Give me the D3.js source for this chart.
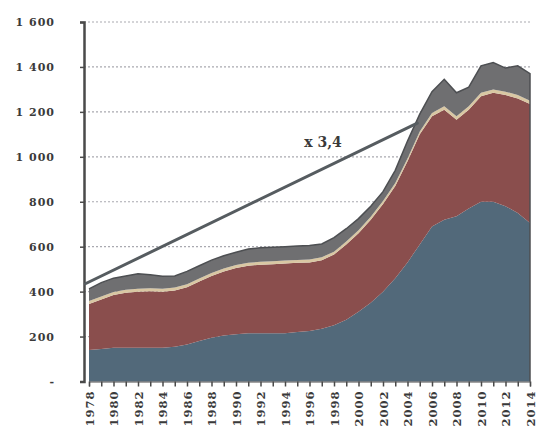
<!DOCTYPE html>
<html>
<head>
<meta charset="utf-8">
<script src="https://cdn.jsdelivr.net/npm/d3@7/dist/d3.min.js"></script>
<style>
  html, body { margin: 0; padding: 0; background: #ffffff; }
  svg { display: block; }
  text { font-family: "DejaVu Serif", "Liberation Serif", serif; font-weight: bold; fill: #3a3a3a; }
</style>
</head>
<body>
<svg id="chart" width="543" height="428"></svg>
<script>
// Annual series, stacked from the bottom up
const years = d3.range(1978, 2015);
const blueLayer = [140,145,150,150,150,150,150,155,165,180,195,205,210,215,215,215,215,220,225,235,250,275,310,350,400,460,530,610,690,720,735,770,800,800,780,750,705];
const redLayer  = [205,220,235,245,250,252,250,250,255,265,275,285,295,300,305,307,310,308,305,305,315,335,350,370,390,410,450,490,490,490,430,440,470,485,495,510,530];
const beigeLayer = [13,13,13,13,13,13,13,13,13,13,13,13,13,13,13,13,13,13,13,13,13,13,13,13,13,13,13,13,15,15,15,15,15,15,15,15,15];
const grayLayer = [54,62,62,62,67,60,55,52,57,57,57,57,57,62,62,63,62,62,62,59,62,57,52,47,42,57,77,77,95,120,105,85,120,120,105,130,120];

const yTicks = [0, 200, 400, 600, 800, 1000, 1200, 1400, 1600];
const yTickLabels = ["-", "200", "400", "600", "800", "1 000", "1 200", "1 400", "1 600"];
const xTickYears = d3.range(1978, 2015, 2);

// Trend line and its annotation
const trendYears = [1977.7, 2004.8];
const trendValues = [435, 1150];
const trendLabel = "x 3,4";

const layerKeys = ["blue", "red", "beige", "gray"];
const layerColors = { blue: "#52697a", red: "#8a4e4d", beige: "#d9c7a3", gray: "#6f6f71" };

const rows = years.map((y, i) => ({
  year: y, blue: blueLayer[i], red: redLayer[i], beige: beigeLayer[i], gray: grayLayer[i]
}));

const svg = d3.select("#chart");
const x = d3.scaleLinear().domain([1978, 2014]).range([89, 530]);
const y = d3.scaleLinear().domain([0, 1600]).range([381.5, 22]);

// Dotted horizontal gridlines
svg.append("g")
  .selectAll("line")
  .data(yTicks.filter(v => v > 0))
  .join("line")
  .attr("x1", 84).attr("x2", 530)
  .attr("y1", d => y(d)).attr("y2", d => y(d))
  .attr("stroke", "#a9a9b0")
  .attr("stroke-width", 1.2)
  .attr("stroke-dasharray", "2,2");

// Stacked areas
const stack = d3.stack().keys(layerKeys);
const series = stack(rows);
const area = d3.area()
  .x(d => x(d.data.year))
  .y0(d => y(d[0]))
  .y1(d => y(d[1]));

svg.append("g")
  .selectAll("path")
  .data(series)
  .join("path")
  .attr("d", area)
  .attr("fill", d => layerColors[d.key]);

// Outline along the top of the stack and its right edge
const topSeries = series[series.length - 1];
const outline = d3.line().x(d => x(d[0])).y(d => y(d[1]));
const lastYear = years[years.length - 1];
const outlinePts = topSeries.map(d => [d.data.year, d[1]]).concat([[lastYear, 0]]);
svg.append("path")
  .attr("d", outline(outlinePts))
  .attr("fill", "none")
  .attr("stroke", "#4d4f52")
  .attr("stroke-width", 1.5);

// Y axis
const yAxis = d3.axisLeft(y)
  .tickValues(yTicks)
  .tickFormat((d, i) => yTickLabels[i])
  .tickSize(4)
  .tickPadding(25);
const gy = svg.append("g").attr("transform", "translate(84,0)").call(yAxis);
gy.select(".domain").attr("stroke", "#4a4a4a").attr("stroke-width", 2.5);
gy.selectAll(".tick line").attr("stroke", "#4a4a4a").attr("stroke-width", 1.5);
gy.selectAll(".tick text")
  .attr("font-size", 11)
  .attr("letter-spacing", 1)
  .attr("font-family", "DejaVu Serif, serif")
  .attr("font-weight", "bold")
  .attr("fill", "#3a3a3a");

// X axis with yearly ticks and two-year labels, read bottom-to-top
const xAxis = d3.axisBottom(x)
  .tickValues(years)
  .tickFormat(d => (xTickYears.includes(d) ? String(d) : ""))
  .tickSize(5);
const gx = svg.append("g").attr("transform", "translate(0,381.5)").call(xAxis);
gx.select(".domain").attr("stroke", "#4a4a4a").attr("stroke-width", 1.2);
gx.selectAll(".tick line").attr("stroke", "#4a4a4a").attr("stroke-width", 1.5);
gx.selectAll(".tick text")
  .attr("font-size", 11.5)
  .attr("letter-spacing", 1)
  .attr("font-family", "DejaVu Serif, serif")
  .attr("font-weight", "bold")
  .attr("fill", "#3a3a3a")
  .attr("transform", "rotate(-90)")
  .attr("text-anchor", "start")
  .attr("dy", "0.35em")
  .attr("x", -45)
  .attr("y", 0);

// Trend line
svg.append("line")
  .attr("x1", x(trendYears[0])).attr("y1", y(trendValues[0]))
  .attr("x2", x(trendYears[1])).attr("y2", y(trendValues[1]))
  .attr("stroke", "#565c60")
  .attr("stroke-width", 3)
  .attr("stroke-linecap", "round");

svg.append("text")
  .attr("x", 323).attr("y", 147)
  .attr("text-anchor", "middle")
  .attr("font-size", 14)
  .attr("fill", "#3a3a3a")
  .text(trendLabel);
</script>
</body>
</html>
